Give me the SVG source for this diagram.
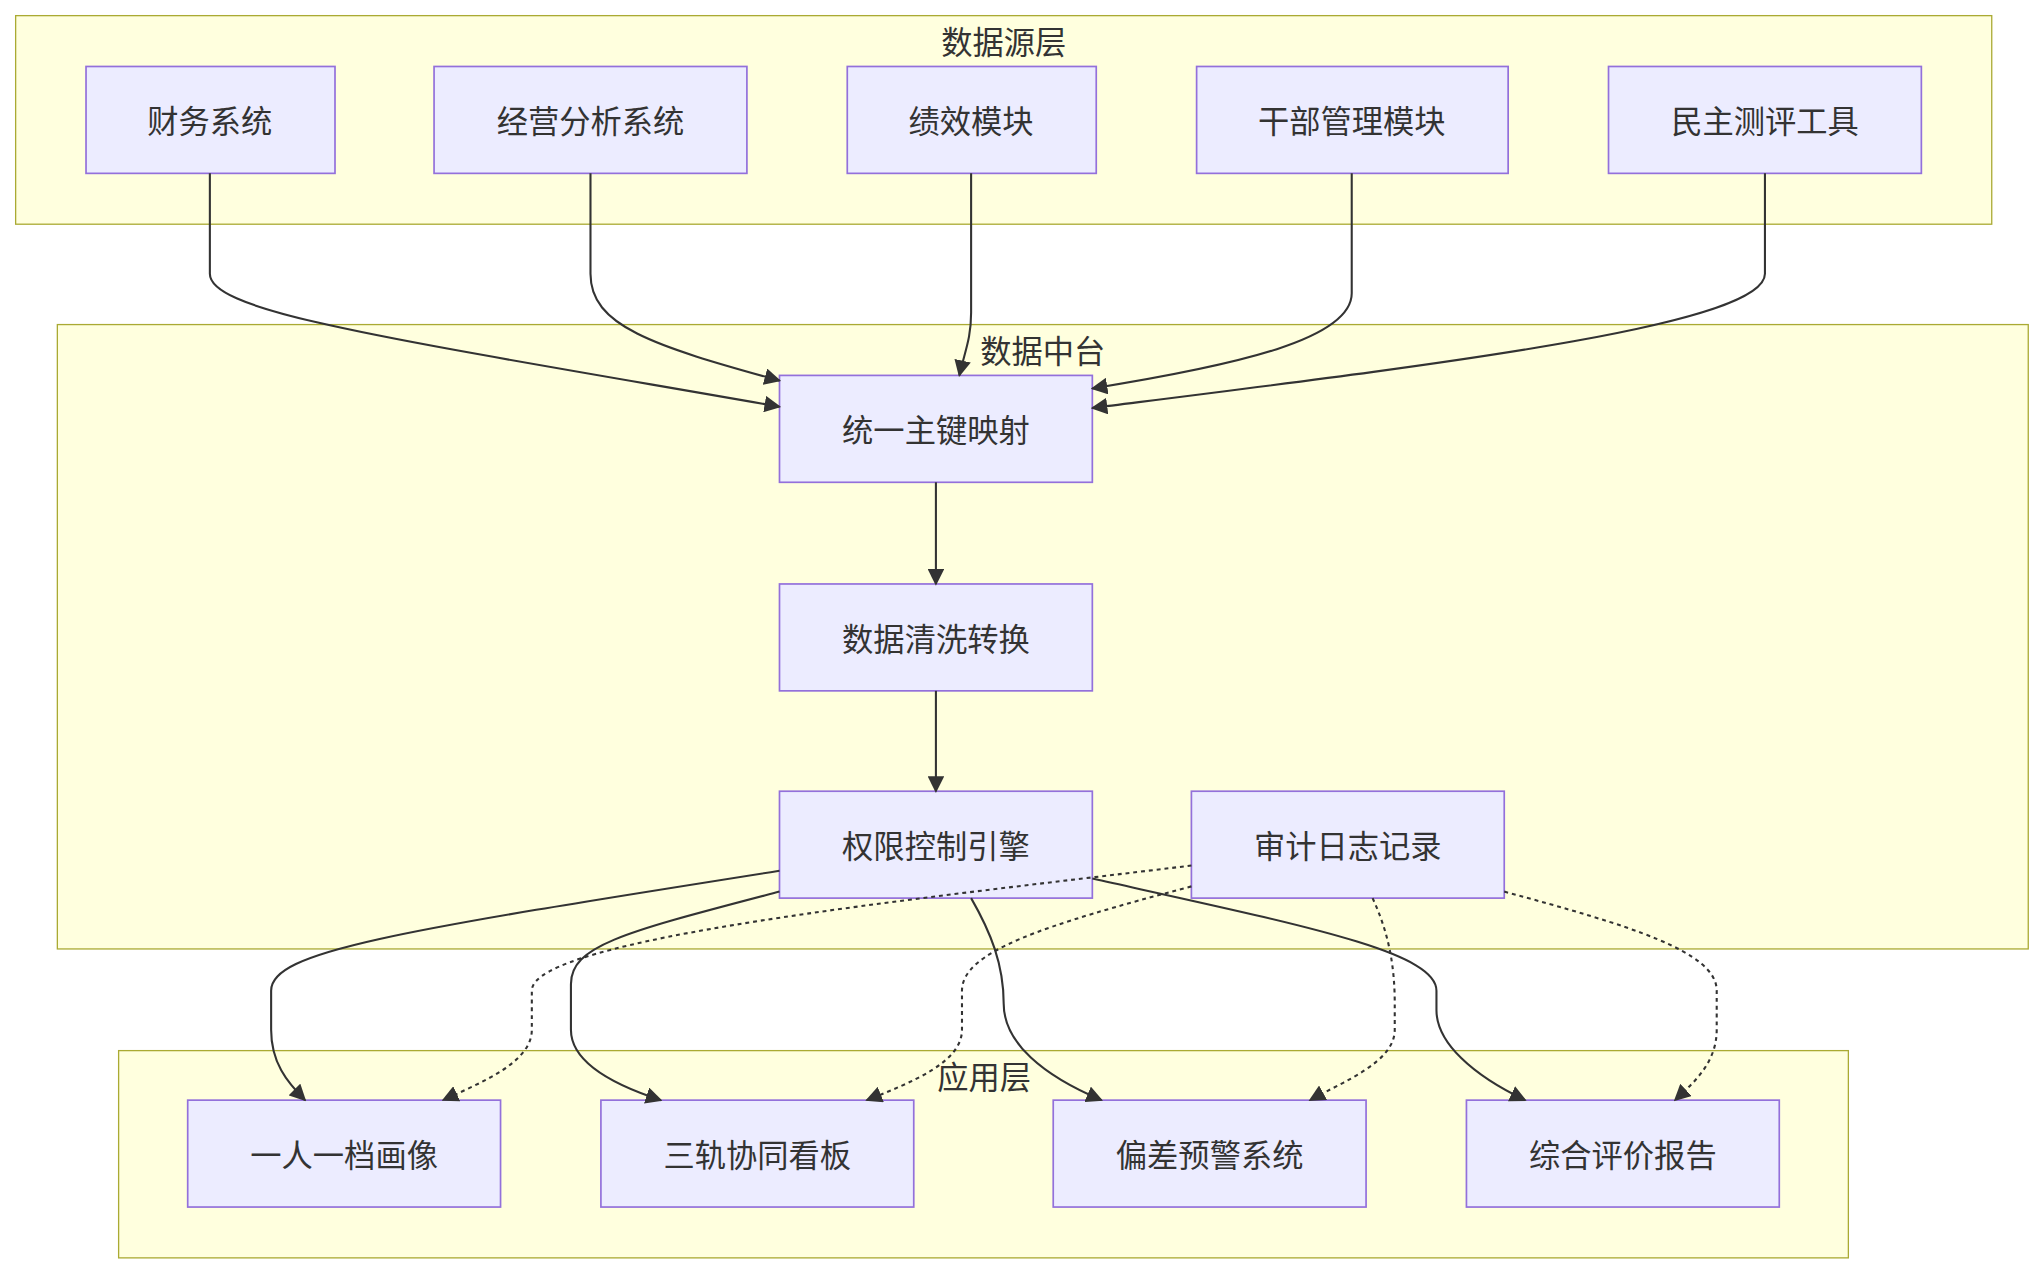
<svg xmlns="http://www.w3.org/2000/svg" width="2040" height="1272" viewBox="0 0 2040 1272">
<style>
.cl{fill:#ffffde;stroke:#aaaa33;stroke-width:1}
.nd{fill:#ececff;stroke:#9370db;stroke-width:1.3}
text{font-family:"Noto Sans CJK SC","Noto Sans",sans-serif;fill:#333;text-anchor:middle;dominant-baseline:central}
.t{font-size:24px}
.ct{font-size:24px}
.e{fill:none;stroke:#333;stroke-width:1.6}
.d{stroke-dasharray:3 3}
</style>
<defs><marker id="a" viewBox="0 0 10 10" refX="9" refY="5" markerWidth="8" markerHeight="8" orient="auto"><path d="M0,0L10,5L0,10z" fill="#333"/></marker></defs>
<rect width="2040" height="1272" fill="#fff"/>
<g transform="scale(1.3035)">
<g id="c1"><rect class="cl" x="12" y="12" width="1516" height="160"/><text class="ct" x="770" y="31">数据源层</text></g>
<g id="c2"><rect class="cl" x="44" y="249" width="1512" height="479"/><text class="ct" x="800" y="268">数据中台</text></g>
<g id="c3"><rect class="cl" x="91" y="806" width="1327" height="159"/><text class="ct" x="755" y="825">应用层</text></g>
<g id="n1"><rect class="nd" x="66" y="51" width="191" height="82"/><text class="t" x="161" y="92">财务系统</text></g>
<g id="n2"><rect class="nd" x="333" y="51" width="240" height="82"/><text class="t" x="453" y="92">经营分析系统</text></g>
<g id="n3"><rect class="nd" x="650" y="51" width="191" height="82"/><text class="t" x="745" y="92">绩效模块</text></g>
<g id="n4"><rect class="nd" x="918" y="51" width="239" height="82"/><text class="t" x="1037" y="92">干部管理模块</text></g>
<g id="n5"><rect class="nd" x="1234" y="51" width="240" height="82"/><text class="t" x="1354" y="92">民主测评工具</text></g>
<g id="n6"><rect class="nd" x="598" y="288" width="240" height="82"/><text class="t" x="718" y="329">统一主键映射</text></g>
<g id="n7"><rect class="nd" x="598" y="448" width="240" height="82"/><text class="t" x="718" y="489">数据清洗转换</text></g>
<g id="n8"><rect class="nd" x="598" y="607" width="240" height="82"/><text class="t" x="718" y="648">权限控制引擎</text></g>
<g id="n9"><rect class="nd" x="914" y="607" width="240" height="82"/><text class="t" x="1034" y="648">审计日志记录</text></g>
<g id="n10"><rect class="nd" x="144" y="844" width="240" height="82"/><text class="t" x="264" y="885">一人一档画像</text></g>
<g id="n11"><rect class="nd" x="461" y="844" width="240" height="82"/><text class="t" x="581" y="885">三轨协同看板</text></g>
<g id="n12"><rect class="nd" x="808" y="844" width="240" height="82"/><text class="t" x="928" y="885">偏差预警系统</text></g>
<g id="n13"><rect class="nd" x="1125" y="844" width="240" height="82"/><text class="t" x="1245" y="885">综合评价报告</text></g>
<g id="edges">
<path class="e" marker-end="url(#a)" d="M161,133V210C161,240 300,260 598,312"/>
<path class="e" marker-end="url(#a)" d="M453,133V210C453,250 500,265 598,292"/>
<path class="e" marker-end="url(#a)" d="M745,133V240C745,260 740,270 736,288"/>
<path class="e" marker-end="url(#a)" d="M1037,133V225C1037,260 950,280 838,298"/>
<path class="e" marker-end="url(#a)" d="M1354,133V210C1354,250 1100,280 838,313"/>
<path class="e" marker-end="url(#a)" d="M718,370V448"/>
<path class="e" marker-end="url(#a)" d="M718,530V607"/>
<path class="e" marker-end="url(#a)" d="M598,668C300,715 208,730 208,760V790C208,815 220,830 234,844"/>
<path class="e" marker-end="url(#a)" d="M598,684C480,715 438,725 438,755V790C438,815 470,832 507,844"/>
<path class="e" marker-end="url(#a)" d="M745,689C760,715 770,740 770,770C770,800 800,825 845,844"/>
<path class="e" marker-end="url(#a)" d="M838,674C1000,710 1102,730 1102,760V775C1102,800 1130,825 1170,844"/>
<path class="e d" marker-end="url(#a)" d="M914,664C700,690 408,720 408,760V790C408,815 370,830 340,844"/>
<path class="e d" marker-end="url(#a)" d="M914,680C800,710 738,730 738,760V790C738,815 700,830 665,844"/>
<path class="e d" marker-end="url(#a)" d="M1053,689C1065,715 1070,740 1070,770V790C1070,815 1030,830 1005,844"/>
<path class="e d" marker-end="url(#a)" d="M1154,684C1250,710 1317,730 1317,760V790C1317,815 1300,830 1285,844"/>
</g>
</g>
</svg>
